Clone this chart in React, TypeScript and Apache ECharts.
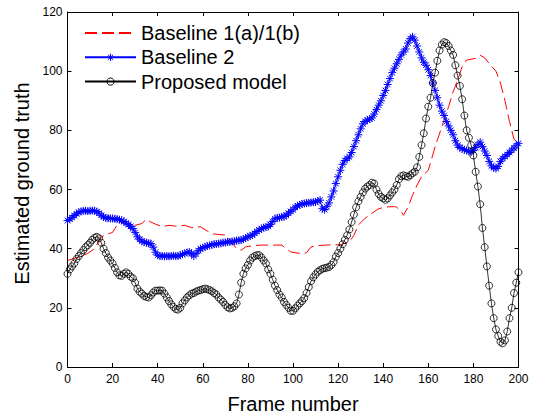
import React, { useEffect, useRef } from "react";
import * as echarts from "echarts";

const FONT = "'Liberation Sans', Arial, Helvetica, sans-serif";

const seriesNames = ["Baseline 1(a)/1(b)", "Baseline 2", "Proposed model"];
const xTicks = { min: 0, max: 200, interval: 20 };
const yTicks = { min: 0, max: 120, interval: 20 };

// Proposed model, frames 0..200
const proposed = [
  31.5, 33, 34, 35, 36.5, 37.5, 38.5, 39.5, 40.5, 41.2,
  42, 43, 43.7, 44, 43.5, 42, 40, 38.5, 37, 36,
  35, 33.5, 32, 31, 30.8, 31.5, 32, 31.5, 30.5, 30,
  28.5, 26.5, 25.5, 24.8, 24, 23.7, 23.5, 24.2, 25.2, 25.8,
  25.8, 25.9, 25.8, 24.8, 23.5, 22.3, 21.2, 20.3, 19.6, 19.4,
  20, 21.5, 22.5, 23.5, 24.2, 24.8, 25, 25.5, 25.8, 26,
  26.3, 26.5, 26.3, 26, 25.6, 25, 24.5, 23.5, 22.8, 22,
  21, 20.2, 19.8, 20, 20.5, 21.5, 24.5, 28.5, 31.5, 33.3,
  34.5, 36, 37, 37.5, 37.8, 37.8, 37, 36, 35, 33,
  31.5, 29.5, 27.5, 26, 24.5, 23.5, 22, 21, 20, 19,
  19, 19.8, 20.7, 21.5, 22.3, 23.3, 25, 27, 29, 30.3,
  31.3, 32.2, 32.7, 33.2, 33.4, 33.6, 33.8, 34.5, 35.5, 37.3,
  38.5, 40, 41.5, 43, 44.5, 46.5, 49, 51.5, 54, 56,
  57.5, 59, 60.3, 61, 61.5, 62.3, 62, 60, 58.5, 57.5,
  57, 56.5, 57, 58, 59, 60, 61.5, 63.5, 64.5, 64.8,
  64.5, 64.3, 64.8, 65.5, 66, 67.5, 71, 75, 79, 84,
  88, 91, 96, 99.5, 103.5, 107, 109, 109.8, 109.5, 108.5,
  107, 105.5, 102, 98.5, 95, 90.5, 85, 80, 77.5, 75,
  71.5, 66, 61, 55, 47, 40.5, 34, 27.5, 21.5, 16.5,
  12.7, 10.5, 8.5, 8, 9, 12, 16.5, 20, 25, 28.5, 32,
];

// Baseline 2, frames 0..200
const baseline2 = [
  49.5, 50, 50.5, 51.2, 51.8, 52.3, 52.6, 52.8, 52.8, 52.7,
  52.8, 52.9, 52.8, 52.5, 52, 51.3, 50.7, 50.4, 50.3, 50.2,
  50.2, 50.1, 50, 49.8, 49.6, 49.2, 48.6, 48.2, 47.5, 46.8,
  45.5, 44, 43.2, 42.5, 42.2, 42, 41.8, 41.7, 40.5, 38.8,
  37.8, 37.5, 37.5, 37.4, 37.5, 37.4, 37.5, 37.6, 37.5, 37.5,
  37.8, 38.1, 38.4, 38.7, 38.9, 38.3, 37.5, 38.3, 39.3, 40,
  40.3, 40.6, 40.9, 41.1, 41.3, 41.5, 41.6, 41.7, 41.8, 42,
  42.1, 42.3, 42.3, 42.4, 42.5, 42.7, 42.8, 42.9, 43.2, 43.6,
  44, 44.3, 44.6, 45.2, 45.8, 46.3, 46.8, 47.1, 47.3, 47.5,
  48.2, 49.2, 50.1, 50.4, 50.5, 50.7, 50.8, 51.3, 52, 52.6,
  53.2, 54, 54.5, 54.8, 55.1, 55.3, 55.4, 55.5, 55.6, 55.7,
  55.8, 56.1, 56.4, 53.5, 53.2, 54.2, 55.5, 57.5, 59.5, 62,
  64.3, 66.5, 68.5, 69.8, 70.5, 71, 72.5, 74.5, 76.5, 78.5,
  80.5, 82.2, 83, 83.5, 83.8, 84.2, 85.5, 87, 88.5, 90,
  91.8, 93.5, 95.5, 97.5, 99.5, 101, 102.5, 104, 105.5, 106.5,
  107.5, 109.5, 111, 111.6, 110.5, 108.5, 106.5, 104.5, 103, 102,
  100.5, 98.5, 96, 93.5, 91, 88.5, 86.5, 85, 83, 81.5,
  80, 78.5, 76.5, 75, 74.2, 73.8, 73.4, 73.2, 72.9, 72.7,
  73.2, 74.2, 75.2, 76, 74.5, 73, 71.5, 69.5, 68, 67.3,
  67.1, 67.8, 69.5, 70.5, 71.2, 71.8, 72.5, 73.3, 74, 74.8, 75.6,
];

// Baseline 1(a)/1(b): key frames and values
const baseline1Frames = [
  0, 2, 5, 9, 12, 15, 18, 20, 21, 23, 26, 28, 30, 33, 35, 37, 39, 42, 45, 48,
  52, 55, 59, 63, 64, 70, 72, 75, 77, 79, 82, 86, 95, 97, 99, 103, 106, 108, 110, 117,
  121, 125, 127, 129, 132, 135, 138, 141, 145, 146, 148, 149, 151, 153, 155, 157, 160, 163, 166, 169,
  171, 173, 175, 177, 181, 183, 185, 187, 190, 192, 194, 196, 198, 200,
];
const baseline1Values = [
  36, 36.5, 37.2, 38.4, 40, 44, 45, 45.5, 46.8, 49, 48.8, 47.4, 47.9, 48.5, 50, 49, 48.3, 47.4, 47.9, 47.6,
  47.9, 47.1, 47.4, 45.5, 45, 44.6, 42.9, 40, 39.5, 40.6, 41, 41.2, 41.2, 40, 38.9, 38.4, 38.6, 40.6, 41, 41.3,
  41.3, 42.3, 44.5, 48, 50.3, 52, 53.5, 54.1, 54.2, 54, 52.5, 51.3, 54, 58, 61.5, 64.3, 66.5, 74.4, 81.2, 88,
  93, 97, 101.5, 103.8, 104.3, 105.4, 104.5, 102.6, 100, 96, 90, 83, 77, 75.6,
];

const STAR = "path://M5,0L5,10M0,5L10,5M1.46,1.46L8.54,8.54M1.46,8.54L8.54,1.46";

export default function App() {
  const ref = useRef<HTMLDivElement>(null);
  useEffect(() => {
    if (!ref.current) return;
    const chart = echarts.init(ref.current, undefined, { renderer: "svg" });
    const axisCommon = {
      type: "value",
      axisLine: { show: true, onZero: false, lineStyle: { color: "#000", width: 1 } },
      axisTick: { show: true, inside: true, length: 4, lineStyle: { color: "#000", width: 1 } },
      splitLine: { show: false },
    };
    const option: any = {
      animation: false,
      backgroundColor: "#fff",
      textStyle: { fontFamily: FONT },
      grid: { left: 67.5, right: 21.5, top: 12, bottom: 52 },
      legend: {
        orient: "vertical",
        left: 84,
        top: 23,
        padding: 0,
        itemGap: 4.3,
        itemWidth: 51,
        itemHeight: 9,
        selectedMode: false,
        data: seriesNames,
        itemStyle: { borderWidth: 1 },
        textStyle: { fontSize: 20, color: "#000", fontFamily: FONT },
      },
      xAxis: [
        {
          ...axisCommon,
          ...xTicks,
          position: "bottom",
          axisLabel: { fontSize: 12, color: "#000", margin: 6, fontFamily: FONT },
          name: "Frame number",
          nameLocation: "middle",
          nameGap: 27,
          nameTextStyle: { fontSize: 20, color: "#000", fontFamily: FONT },
        },
        { ...axisCommon, ...xTicks, position: "top", axisLabel: { show: false } },
      ],
      yAxis: [
        {
          ...axisCommon,
          ...yTicks,
          position: "left",
          axisLabel: { fontSize: 12, color: "#000", margin: 5, fontFamily: FONT },
          name: "Estimated ground truth",
          nameLocation: "middle",
          nameGap: 29,
          nameTextStyle: { fontSize: 20, color: "#000", fontFamily: FONT, padding: [0, 0, 0, 12] },
        },
        { ...axisCommon, ...yTicks, position: "right", axisLabel: { show: false } },
      ],
      series: [
        {
          name: seriesNames[0],
          type: "line",
          symbol: "none",
          xAxisIndex: 0,
          yAxisIndex: 0,
          itemStyle: { color: "rgba(0,0,0,0)", borderWidth: 0 },
          lineStyle: { color: "#ff0000", width: 1, type: [12, 5] },
          data: baseline1Frames.map((f, i) => [f, baseline1Values[i]]),
          z: 2,
        },
        {
          name: seriesNames[1],
          type: "line",
          symbol: STAR,
          symbolSize: 8,
          showAllSymbol: true,
          xAxisIndex: 0,
          yAxisIndex: 0,
          itemStyle: { color: "rgba(0,0,0,0)", borderColor: "#0000ff", borderWidth: 1 },
          lineStyle: { color: "#0000ff", width: 1 },
          data: baseline2.map((v, i) => [i, v]),
          z: 3,
        },
        {
          name: seriesNames[2],
          type: "line",
          symbol: "circle",
          symbolSize: 7,
          showAllSymbol: true,
          xAxisIndex: 0,
          yAxisIndex: 0,
          itemStyle: { color: "rgba(0,0,0,0)", borderColor: "#000", borderWidth: 0.8 },
          lineStyle: { color: "#000", width: 0.8 },
          data: proposed.map((v, i) => [i, v]),
          z: 4,
        },
      ],
    };
    chart.setOption(option);
    return () => chart.dispose();
  }, []);
  return (
    <div
      ref={ref}
      style={{ position: "fixed", left: 0, top: 0, width: 540, height: 419, background: "#fff" }}
    />
  );
}
